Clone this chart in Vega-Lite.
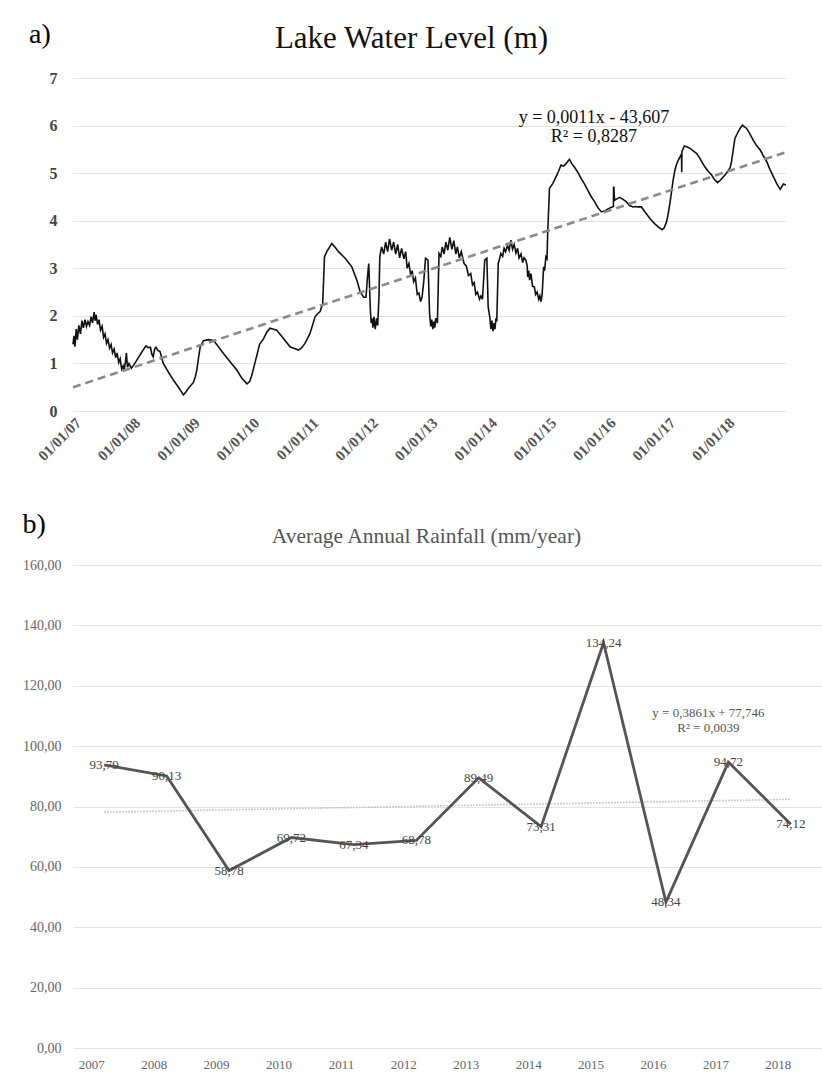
{
  "$schema": "https://vega.github.io/schema/vega-lite/v6.json",
  "background": "white",
  "padding": {"left": 22, "top": 21, "right": 0, "bottom": 0},
  "spacing": 46,
  "config": {
    "view": {"stroke": null},
    "font": "Liberation Serif",
    "locale": {"number": {"decimal": ",", "thousands": ".", "grouping": [3], "currency": ["", "€"]}},
    "axis": {"grid": true, "gridColor": "#e3e3e3", "gridWidth": 1.2, "domain": false, "ticks": false, "title": null, "labelFont": "Liberation Serif"}
  },
  "datasets": {
    "lake": [
      {"date":"2007-01-01","level":1.40},{"date":"2007-01-07","level":1.58},{"date":"2007-01-13","level":1.35},{"date":"2007-01-21","level":1.72},{"date":"2007-01-28","level":1.50},{"date":"2007-02-06","level":1.80},{"date":"2007-02-16","level":1.62},{"date":"2007-02-25","level":1.90},{"date":"2007-03-06","level":1.75},{"date":"2007-03-16","level":1.92},{"date":"2007-03-25","level":1.78},{"date":"2007-04-03","level":1.88},{"date":"2007-04-13","level":1.80},{"date":"2007-04-22","level":1.98},{"date":"2007-05-01","level":1.85},{"date":"2007-05-11","level":2.08},{"date":"2007-05-17","level":1.90},{"date":"2007-05-23","level":2.02},{"date":"2007-06-01","level":1.82},{"date":"2007-06-10","level":1.92},{"date":"2007-06-19","level":1.70},{"date":"2007-06-29","level":1.78},{"date":"2007-07-08","level":1.55},{"date":"2007-07-17","level":1.62},{"date":"2007-07-26","level":1.42},{"date":"2007-08-04","level":1.50},{"date":"2007-08-14","level":1.32},{"date":"2007-08-23","level":1.40},{"date":"2007-09-01","level":1.22},{"date":"2007-09-11","level":1.30},{"date":"2007-09-20","level":1.12},{"date":"2007-09-29","level":1.22},{"date":"2007-10-09","level":1.02},{"date":"2007-10-18","level":1.10},{"date":"2007-10-27","level":0.88},{"date":"2007-11-05","level":0.95},{"date":"2007-11-11","level":0.85},{"date":"2007-11-20","level":1.05},{"date":"2007-11-25","level":1.22},{"date":"2007-12-02","level":0.92},{"date":"2007-12-11","level":1.00},{"date":"2007-12-26","level":0.90},
      {"date":"2008-01-12","level":0.98},{"date":"2008-02-05","level":1.11},{"date":"2008-03-01","level":1.25},{"date":"2008-03-24","level":1.37},{"date":"2008-04-07","level":1.33},{"date":"2008-04-21","level":1.34},{"date":"2008-04-29","level":1.20},{"date":"2008-05-08","level":1.14},{"date":"2008-05-17","level":1.30},{"date":"2008-05-25","level":1.34},{"date":"2008-06-05","level":1.28},{"date":"2008-06-19","level":1.25},{"date":"2008-07-09","level":1.00},{"date":"2008-08-09","level":0.82},{"date":"2008-09-09","level":0.65},{"date":"2008-10-10","level":0.50},{"date":"2008-11-10","level":0.34},{"date":"2008-11-25","level":0.40},{"date":"2008-12-11","level":0.48},{"date":"2008-12-29","level":0.55},
      {"date":"2009-01-10","level":0.60},{"date":"2009-01-22","level":0.72},{"date":"2009-01-31","level":0.86},{"date":"2009-02-10","level":1.10},{"date":"2009-02-21","level":1.35},{"date":"2009-03-13","level":1.48},{"date":"2009-04-13","level":1.50},{"date":"2009-05-14","level":1.48},{"date":"2009-06-13","level":1.35},{"date":"2009-07-14","level":1.21},{"date":"2009-08-20","level":1.05},{"date":"2009-10-04","level":0.86},{"date":"2009-11-02","level":0.70},{"date":"2009-12-05","level":0.57},{"date":"2009-12-22","level":0.62},
      {"date":"2010-01-05","level":0.76},{"date":"2010-01-21","level":0.98},{"date":"2010-02-05","level":1.18},{"date":"2010-02-21","level":1.40},{"date":"2010-03-18","level":1.52},{"date":"2010-04-05","level":1.65},{"date":"2010-04-26","level":1.74},{"date":"2010-05-18","level":1.72},{"date":"2010-06-06","level":1.70},{"date":"2010-07-17","level":1.53},{"date":"2010-08-27","level":1.35},{"date":"2010-09-19","level":1.32},{"date":"2010-10-18","level":1.28},{"date":"2010-11-07","level":1.33},{"date":"2010-11-27","level":1.42},{"date":"2010-12-28","level":1.63},
      {"date":"2011-01-28","level":1.98},{"date":"2011-02-14","level":2.05},{"date":"2011-02-28","level":2.09},{"date":"2011-03-16","level":2.26},{"date":"2011-03-27","level":3.24},{"date":"2011-04-10","level":3.35},{"date":"2011-05-11","level":3.52},{"date":"2011-05-29","level":3.45},{"date":"2011-06-21","level":3.35},{"date":"2011-08-01","level":3.21},{"date":"2011-09-11","level":3.03},{"date":"2011-10-12","level":2.75},{"date":"2011-11-01","level":2.51},{"date":"2011-11-23","level":2.39},{"date":"2011-12-07","level":2.39},{"date":"2011-12-16","level":2.80},{"date":"2011-12-24","level":3.10},{"date":"2011-12-29","level":2.60},
      {"date":"2012-01-03","level":2.12},{"date":"2012-01-08","level":1.85},{"date":"2012-01-13","level":1.95},{"date":"2012-01-19","level":1.75},{"date":"2012-01-25","level":1.98},{"date":"2012-02-02","level":1.72},{"date":"2012-02-10","level":1.95},{"date":"2012-02-17","level":1.80},{"date":"2012-02-25","level":2.40},{"date":"2012-03-01","level":3.24},{"date":"2012-03-12","level":3.45},{"date":"2012-03-25","level":3.30},{"date":"2012-04-06","level":3.55},{"date":"2012-04-18","level":3.35},{"date":"2012-04-30","level":3.62},{"date":"2012-05-13","level":3.38},{"date":"2012-05-25","level":3.55},{"date":"2012-06-07","level":3.30},{"date":"2012-06-19","level":3.50},{"date":"2012-07-01","level":3.22},{"date":"2012-07-13","level":3.42},{"date":"2012-07-27","level":3.20},{"date":"2012-08-07","level":3.35},{"date":"2012-08-16","level":3.00},{"date":"2012-08-27","level":3.10},{"date":"2012-09-07","level":2.85},{"date":"2012-09-16","level":2.95},{"date":"2012-09-25","level":2.72},{"date":"2012-10-06","level":2.80},{"date":"2012-10-17","level":2.45},{"date":"2012-10-27","level":2.48},{"date":"2012-11-07","level":2.30},{"date":"2012-11-16","level":2.40},{"date":"2012-11-27","level":2.75},{"date":"2012-12-07","level":3.21},{"date":"2012-12-22","level":3.17},
      {"date":"2013-01-01","level":2.05},{"date":"2013-01-08","level":1.78},{"date":"2013-01-14","level":1.92},{"date":"2013-01-21","level":1.72},{"date":"2013-01-27","level":1.88},{"date":"2013-02-02","level":1.75},{"date":"2013-02-08","level":1.95},{"date":"2013-02-18","level":1.85},{"date":"2013-02-28","level":3.31},{"date":"2013-03-11","level":3.25},{"date":"2013-03-20","level":3.45},{"date":"2013-03-31","level":3.30},{"date":"2013-04-11","level":3.55},{"date":"2013-04-23","level":3.38},{"date":"2013-05-05","level":3.65},{"date":"2013-05-18","level":3.40},{"date":"2013-05-30","level":3.58},{"date":"2013-06-11","level":3.30},{"date":"2013-06-21","level":3.45},{"date":"2013-07-03","level":3.22},{"date":"2013-07-15","level":3.35},{"date":"2013-08-01","level":3.10},{"date":"2013-08-15","level":3.05},{"date":"2013-08-28","level":2.85},{"date":"2013-09-11","level":2.89},{"date":"2013-09-22","level":2.65},{"date":"2013-10-02","level":2.70},{"date":"2013-10-12","level":2.45},{"date":"2013-10-22","level":2.50},{"date":"2013-11-04","level":2.35},{"date":"2013-11-13","level":2.42},{"date":"2013-11-22","level":2.35},{"date":"2013-11-30","level":2.80},{"date":"2013-12-06","level":3.17},{"date":"2013-12-19","level":3.21},{"date":"2013-12-24","level":2.60},{"date":"2013-12-27","level":2.19},
      {"date":"2014-01-06","level":1.98},{"date":"2014-01-13","level":1.72},{"date":"2014-01-19","level":1.90},{"date":"2014-01-26","level":1.68},{"date":"2014-02-01","level":1.85},{"date":"2014-02-07","level":1.72},{"date":"2014-02-13","level":1.95},{"date":"2014-02-18","level":1.88},{"date":"2014-02-27","level":3.10},{"date":"2014-03-07","level":3.20},{"date":"2014-03-15","level":3.31},{"date":"2014-03-26","level":3.25},{"date":"2014-04-04","level":3.42},{"date":"2014-04-13","level":3.35},{"date":"2014-04-25","level":3.48},{"date":"2014-05-05","level":3.38},{"date":"2014-05-16","level":3.59},{"date":"2014-05-26","level":3.40},{"date":"2014-06-05","level":3.50},{"date":"2014-06-16","level":3.32},{"date":"2014-06-26","level":3.42},{"date":"2014-07-05","level":3.22},{"date":"2014-07-17","level":3.30},{"date":"2014-07-27","level":3.12},{"date":"2014-08-05","level":3.22},{"date":"2014-08-16","level":3.17},{"date":"2014-08-24","level":3.05},{"date":"2014-08-27","level":2.82},{"date":"2014-09-02","level":2.95},{"date":"2014-09-08","level":2.75},{"date":"2014-09-16","level":2.89},{"date":"2014-09-26","level":2.62},{"date":"2014-10-07","level":2.61},{"date":"2014-10-15","level":2.45},{"date":"2014-10-24","level":2.50},{"date":"2014-11-03","level":2.35},{"date":"2014-11-10","level":2.42},{"date":"2014-11-17","level":2.30},{"date":"2014-11-24","level":2.45},{"date":"2014-12-03","level":3.03},{"date":"2014-12-09","level":2.95},{"date":"2014-12-17","level":3.24},{"date":"2014-12-24","level":3.20},{"date":"2014-12-28","level":3.73},
      {"date":"2015-01-08","level":4.68},{"date":"2015-01-28","level":4.78},{"date":"2015-02-17","level":4.92},{"date":"2015-03-06","level":5.05},{"date":"2015-03-20","level":5.17},{"date":"2015-04-06","level":5.15},{"date":"2015-04-20","level":5.20},{"date":"2015-05-01","level":5.25},{"date":"2015-05-11","level":5.29},{"date":"2015-05-25","level":5.20},{"date":"2015-06-10","level":5.13},{"date":"2015-07-01","level":5.02},{"date":"2015-07-21","level":4.89},{"date":"2015-08-10","level":4.78},{"date":"2015-09-01","level":4.64},{"date":"2015-09-19","level":4.52},{"date":"2015-10-12","level":4.40},{"date":"2015-11-01","level":4.28},{"date":"2015-11-22","level":4.19},{"date":"2015-12-08","level":4.20},{"date":"2015-12-22","level":4.22},
      {"date":"2016-01-08","level":4.26},{"date":"2016-01-22","level":4.28},{"date":"2016-02-05","level":4.30},{"date":"2016-02-06","level":4.70},{"date":"2016-02-08","level":4.70},{"date":"2016-02-12","level":4.43},{"date":"2016-02-26","level":4.46},{"date":"2016-03-15","level":4.49},{"date":"2016-04-04","level":4.45},{"date":"2016-04-24","level":4.40},{"date":"2016-05-14","level":4.32},{"date":"2016-06-05","level":4.29},{"date":"2016-06-23","level":4.30},{"date":"2016-07-05","level":4.29},{"date":"2016-07-26","level":4.29},{"date":"2016-08-16","level":4.19},{"date":"2016-09-05","level":4.10},{"date":"2016-09-26","level":4.01},{"date":"2016-10-15","level":3.94},{"date":"2016-11-06","level":3.87},{"date":"2016-12-01","level":3.81},{"date":"2016-12-13","level":3.85},{"date":"2016-12-28","level":3.98},
      {"date":"2017-01-07","level":4.15},{"date":"2017-01-17","level":4.36},{"date":"2017-01-27","level":4.60},{"date":"2017-02-06","level":4.85},{"date":"2017-02-17","level":5.06},{"date":"2017-02-27","level":5.18},{"date":"2017-03-09","level":5.27},{"date":"2017-03-22","level":5.35},{"date":"2017-03-30","level":5.40},{"date":"2017-03-31","level":5.02},{"date":"2017-04-01","level":5.45},{"date":"2017-04-16","level":5.57},{"date":"2017-05-04","level":5.55},{"date":"2017-05-21","level":5.52},{"date":"2017-06-10","level":5.47},{"date":"2017-07-01","level":5.41},{"date":"2017-07-21","level":5.31},{"date":"2017-08-04","level":5.22},{"date":"2017-08-21","level":5.13},{"date":"2017-09-10","level":5.04},{"date":"2017-10-01","level":4.96},{"date":"2017-10-17","level":4.87},{"date":"2017-11-06","level":4.80},{"date":"2017-11-23","level":4.85},{"date":"2017-12-11","level":4.92},{"date":"2017-12-27","level":4.98},
      {"date":"2018-01-11","level":5.05},{"date":"2018-01-23","level":5.12},{"date":"2018-01-31","level":5.24},{"date":"2018-02-11","level":5.50},{"date":"2018-02-21","level":5.73},{"date":"2018-03-13","level":5.87},{"date":"2018-03-26","level":5.95},{"date":"2018-04-09","level":6.01},{"date":"2018-04-19","level":5.98},{"date":"2018-05-04","level":5.94},{"date":"2018-05-23","level":5.83},{"date":"2018-06-14","level":5.69},{"date":"2018-07-04","level":5.58},{"date":"2018-07-28","level":5.48},{"date":"2018-08-15","level":5.36},{"date":"2018-09-05","level":5.24},{"date":"2018-09-24","level":5.08},{"date":"2018-10-16","level":4.92},{"date":"2018-11-05","level":4.78},{"date":"2018-11-26","level":4.66},{"date":"2018-12-07","level":4.72},{"date":"2018-12-16","level":4.77},{"date":"2018-12-31","level":4.75}
    ],
    "lakeTrend": [
      {"date":"2007-01-01","level":0.50},{"date":"2019-01-01","level":5.44}
    ],
    "lakeEq": [
      {"date":"2015-10-08","level":6.16,"label":"y = 0,0011x - 43,607"},
      {"date":"2015-10-08","level":5.76,"label":"R² = 0,8287"}
    ],
    "rain": [
      {"year":"2007","rain":93.79},{"year":"2008","rain":90.13},{"year":"2009","rain":58.78},{"year":"2010","rain":69.72},{"year":"2011","rain":67.34},{"year":"2012","rain":68.78},{"year":"2013","rain":89.49},{"year":"2014","rain":73.31},{"year":"2015","rain":134.24},{"year":"2016","rain":48.34},{"year":"2017","rain":94.72},{"year":"2018","rain":74.12}
    ],
    "rainTrend": [
      {"year":"2007","rain":78.13},{"year":"2018","rain":82.38}
    ],
    "rainEq": [
      {"year":"2017","rain":111.0,"label":"y = 0,3861x + 77,746"},
      {"year":"2017","rain":106.0,"label":"R² = 0,0039"}
    ]
  },
  "vconcat": [
    {
      "title": {"text": "a)", "anchor": "start", "frame": "group", "fontSize": 28, "fontWeight": "normal", "font": "Liberation Serif", "color": "#000", "dy": 30, "dx": -44},
      "vconcat": [
        {
          "width": 713,
          "height": 333,
          "title": {"text": "Lake Water Level (m)", "fontSize": 31, "fontWeight": "normal", "font": "Liberation Serif", "color": "#111", "anchor": "middle", "offset": 15, "dx": -18},
          "layer": [
            {
              "data": {"name": "lake"},
              "mark": {"type": "line", "color": "#111", "strokeWidth": 1.6},
              "encoding": {
                "x": {"field": "date", "type": "temporal",
                  "scale": {"type": "utc", "domain": [{"year": 2007, "month": 1, "date": 1, "utc": true}, {"year": 2019, "month": 1, "date": 1, "utc": true}]},
                  "axis": {"grid": false, "labelAngle": -45, "labelExpr": "utcFormat(datum.value, '%d/%m/%y')", "labelFontSize": 15, "labelFontWeight": "bold", "labelColor": "#555", "labelPadding": 4,
                    "values": [{"year": 2007, "month": 1, "date": 1, "utc": true}, {"year": 2008, "month": 1, "date": 1, "utc": true}, {"year": 2009, "month": 1, "date": 1, "utc": true}, {"year": 2010, "month": 1, "date": 1, "utc": true}, {"year": 2011, "month": 1, "date": 1, "utc": true}, {"year": 2012, "month": 1, "date": 1, "utc": true}, {"year": 2013, "month": 1, "date": 1, "utc": true}, {"year": 2014, "month": 1, "date": 1, "utc": true}, {"year": 2015, "month": 1, "date": 1, "utc": true}, {"year": 2016, "month": 1, "date": 1, "utc": true}, {"year": 2017, "month": 1, "date": 1, "utc": true}, {"year": 2018, "month": 1, "date": 1, "utc": true}]}},
                "y": {"field": "level", "type": "quantitative",
                  "scale": {"domain": [0, 7], "nice": false, "zero": true},
                  "axis": {"values": [0, 1, 2, 3, 4, 5, 6, 7], "format": "d", "labelFontSize": 16, "labelFontWeight": "bold", "labelColor": "#444", "labelPadding": 16}}
              }
            },
            {
              "data": {"name": "lakeTrend"},
              "mark": {"type": "line", "color": "#8a8a8a", "strokeWidth": 2.6, "strokeDash": [8, 5]},
              "encoding": {
                "x": {"field": "date", "type": "temporal"},
                "y": {"field": "level", "type": "quantitative"}
              }
            },
            {
              "data": {"name": "lakeEq"},
              "mark": {"type": "text", "fontSize": 18, "font": "Liberation Serif", "color": "#111", "align": "center", "baseline": "middle"},
              "encoding": {
                "x": {"field": "date", "type": "temporal"},
                "y": {"field": "level", "type": "quantitative"},
                "text": {"field": "label"}
              }
            }
          ]
        }
      ]
    },
    {
      "title": {"text": "b)", "anchor": "start", "frame": "bounds", "fontSize": 28, "fontWeight": "normal", "font": "Liberation Serif", "color": "#000", "dy": 17},
      "vconcat": [
        {
          "width": 749,
          "height": 483,
          "title": {"text": "Average Annual Rainfall (mm/year)", "fontSize": 21.5, "fontWeight": "normal", "font": "Liberation Serif", "color": "#555", "anchor": "middle", "offset": 11, "dx": -21},
          "layer": [
            {
              "data": {"name": "rainTrend"},
              "mark": {"type": "line", "color": "#bdbdbd", "strokeWidth": 1.6, "strokeDash": [1.5, 1.5]},
              "encoding": {
                "x": {"field": "year", "type": "ordinal", "sort": null},
                "y": {"field": "rain", "type": "quantitative"}
              }
            },
            {
              "data": {"name": "rain"},
              "mark": {"type": "line", "color": "#555", "strokeWidth": 2.8},
              "encoding": {
                "x": {"field": "year", "type": "ordinal",
                  "scale": {"type": "point", "padding": 0.5, "domain": ["2007","2008","2009","2010","2011","2012","2013","2014","2015","2016","2017","2018"]},
                  "axis": {"labelAngle": 0, "grid": false, "labelFontSize": 13, "labelColor": "#666", "labelPadding": 16}},
                "y": {"field": "rain", "type": "quantitative",
                  "scale": {"domain": [0, 160], "nice": false},
                  "axis": {"values": [0, 20, 40, 60, 80, 100, 120, 140, 160], "format": ".2f", "labelFontSize": 14, "labelColor": "#666", "labelPadding": 12}}
              }
            },
            {
              "data": {"name": "rain"},
              "mark": {"type": "text", "fontSize": 13, "font": "Liberation Serif", "color": "#444", "align": "center", "baseline": "middle"},
              "encoding": {
                "x": {"field": "year", "type": "ordinal"},
                "y": {"field": "rain", "type": "quantitative"},
                "text": {"field": "rain", "type": "quantitative", "format": ".2f"}
              }
            },
            {
              "data": {"name": "rainEq"},
              "mark": {"type": "text", "fontSize": 13, "font": "Liberation Serif", "color": "#555", "align": "center", "baseline": "middle", "dx": -20},
              "encoding": {
                "x": {"field": "year", "type": "ordinal"},
                "y": {"field": "rain", "type": "quantitative"},
                "text": {"field": "label"}
              }
            }
          ]
        }
      ]
    }
  ]
}
